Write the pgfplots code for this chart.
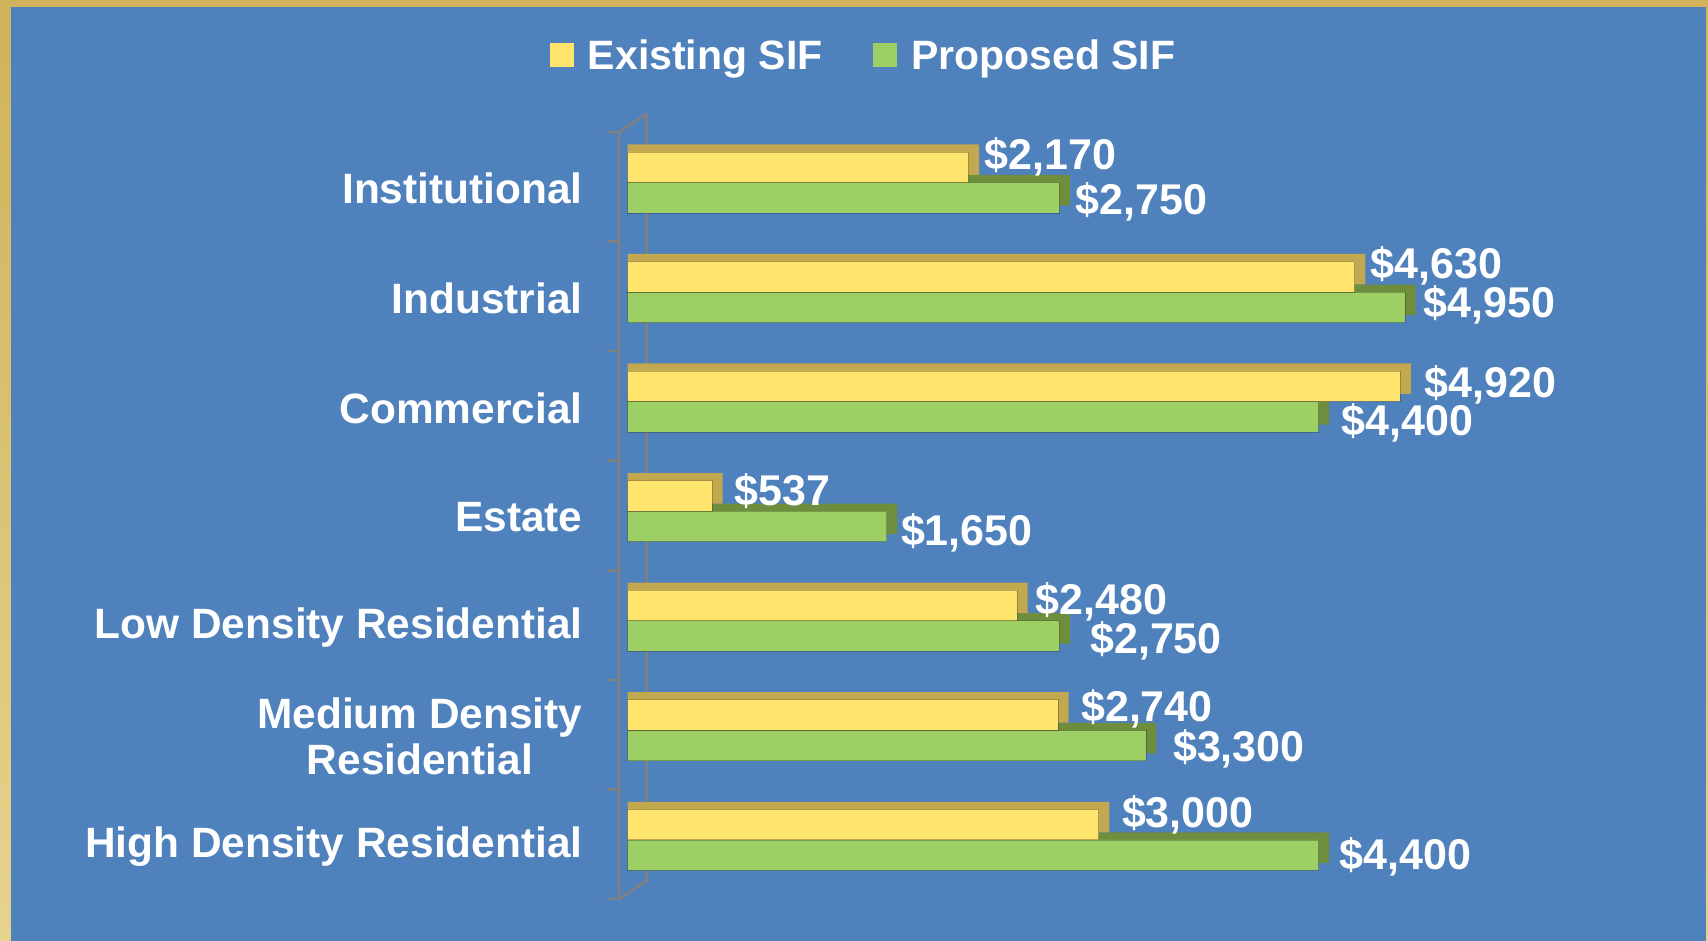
\documentclass[border=0pt]{standalone}
\usepackage{pgfplots}
\pgfplotsset{compat=1.18}
\usepackage{pgfplotstable}
\usepackage{fontspec}
\setmainfont{Liberation Sans}
\definecolor{bg}{HTML}{4F81BD}
\definecolor{goldA}{HTML}{CFB25A}
\definecolor{goldB}{HTML}{E6D38E}
\definecolor{yfront}{HTML}{FFE46E}
\definecolor{yside}{HTML}{C2A84E}
\definecolor{gfront}{HTML}{9ECF64}
\definecolor{gside}{HTML}{6E8E3E}
\definecolor{wall}{HTML}{808080}

% y: 0 = High Density Residential ... 6 = Institutional
% e = Existing SIF, p = Proposed SIF; ex/ey, px/py = label offsets (pt)
\pgfplotstableread{
y e p ex ey px py
0 3000 4400 23 16.3 20.7 -25.3
1 2740 3300 23 13.0 27 -27.3
2 2480 2750 18.5 10.8 30.5 -28.5
3 537 1650 22 9.7 14 -29.6
4 4920 4400 24 8.7 23 -29.6
5 4630 4950 16 18.3 18.5 -20.9
6 2170 2750 16 17.3 16 -27.3
}\data

\begin{document}
\begin{tikzpicture}
\useasboundingbox (0,0) rectangle (1708pt,-941pt);
\shade[top color=goldA, bottom color=goldB] (0,0) rectangle (1708pt,-941pt);
\fill[bg] (11pt,-7pt) rectangle (1705.7pt,-941pt);
\begin{axis}[
  at={(627.7pt,-899pt)}, anchor=south west,
  x=0.157pt, y=109.57pt,
  xmin=0, xmax=6800, ymin=-0.5, ymax=6.5,
  enlargelimits=false,
  clip=false,
  bar width=30.5pt,
  axis line style={draw=none},
  tick style={draw=none},
  xtick=\empty,
  ytick={0,...,6},
  yticklabels={High Density Residential,{Medium Density\\Residential},Low Density Residential,Estate,Commercial,Industrial,Institutional},
  yticklabel style={font=\fontsize{42.4}{46}\selectfont\bfseries, text=white, align=center, anchor=east, inner sep=0pt, xshift=-45pt, yshift=-2pt},
  legend columns=2,
  legend style={at={(axis cs:-495,7.20)}, anchor=west, draw=none, fill=none, inner sep=0pt, outer sep=0pt,
    column sep=14pt, font=\fontsize{41}{48}\selectfont\bfseries,
    nodes={inner sep=0pt, text=white},
    /tikz/every even column/.append style={column sep=50.5pt}},
  legend image code/.code={\fill[#1,draw=none] (0pt,-12pt) rectangle (24pt,12pt);},
]
\addlegendimage{fill=yfront}
\addlegendentry{Existing SIF}
\addlegendimage{fill=gfront}
\addlegendentry{Proposed SIF}

% 3-D wall
\draw[wall, line width=2.5pt, line join=round] (axis cs:-55.4,-0.5) -- (axis cs:-55.4,6.5) -- (axis cs:121,6.667) -- (axis cs:121,-0.333) -- cycle;
\pgfplotsinvokeforeach{-0.5,0.5,1.5,2.5,3.5,4.5,5.5,6.5}{
  \draw[wall, line width=2.5pt] (axis cs:-134,#1) -- (axis cs:-55.4,#1);
}

% Proposed (green): depth faces, then front
\addplot[xbar, forget plot, fill=gside, draw=none, bar shift=-3.4pt]
  table[x expr=\thisrow{p}+68, y=y]{\data};
\addplot[xbar, forget plot, fill=gfront, draw=black, draw opacity=0.25, line width=0.6pt, bar shift=-10.9pt,
  point meta=x,
  visualization depends on={\thisrow{px}\as\lx},
  visualization depends on={\thisrow{py}\as\ly},
  nodes near coords={\$\pgfmathprintnumber[fixed,precision=0,1000 sep={,},assume math mode=true]{\pgfplotspointmeta}},
  every node near coord/.append style={font=\fontsize{43}{48}\selectfont\bfseries, text=white, anchor=base west, inner sep=0pt, xshift=\lx pt, yshift=\ly pt, draw=none, opacity=1, text opacity=1}]
  table[x=p, y=y]{\data};

% Existing (yellow): depth faces, then front
\addplot[xbar, forget plot, fill=yside, draw=none, bar shift=27.2pt]
  table[x expr=\thisrow{e}+68, y=y]{\data};
\addplot[xbar, forget plot, fill=yfront, draw=black, draw opacity=0.25, line width=0.6pt, bar shift=19.7pt,
  point meta=x,
  visualization depends on={\thisrow{ex}\as\lx},
  visualization depends on={\thisrow{ey}\as\ly},
  nodes near coords={\$\pgfmathprintnumber[fixed,precision=0,1000 sep={,},assume math mode=true]{\pgfplotspointmeta}},
  every node near coord/.append style={font=\fontsize{43}{48}\selectfont\bfseries, text=white, anchor=base west, inner sep=0pt, xshift=\lx pt, yshift=\ly pt, draw=none, opacity=1, text opacity=1}]
  table[x=e, y=y]{\data};
\end{axis}
\end{tikzpicture}
\end{document}
